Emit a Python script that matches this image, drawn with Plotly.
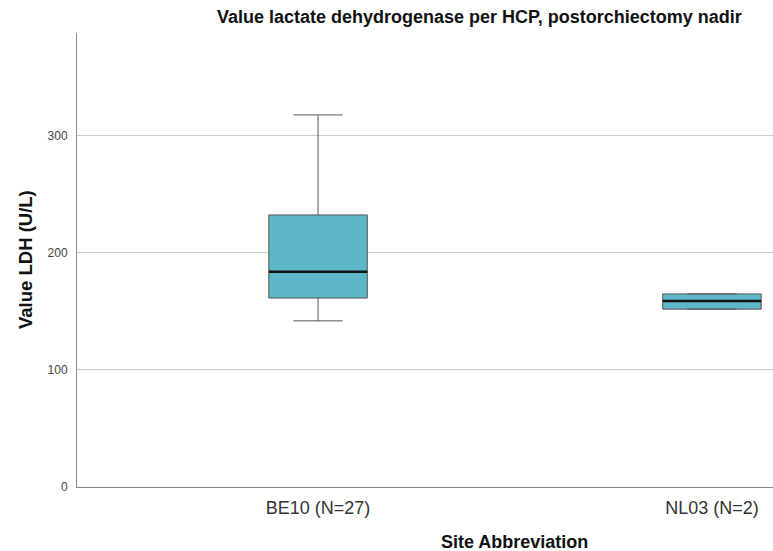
import plotly.graph_objects as go

# LDH summary per site (U/L)
sites = ["BE10 (N=27)", "NL03 (N=2)"]
positions = [0, 1]
lower_whisker = [142, 152]
q1 = [161.5, 152]
median = [184, 159]
q3 = [232.5, 165]
upper_whisker = [318, 165]

box_width = 0.25
fill_color = "#5EB6C9"
edge_color = "#555555"
font_family = "Liberation Sans, Arial, sans-serif"

fig = go.Figure()

fig.add_trace(go.Box(
    x=positions,
    q1=q1,
    median=median,
    q3=q3,
    lowerfence=lower_whisker,
    upperfence=upper_whisker,
    width=box_width,
    whiskerwidth=0.5,
    fillcolor=fill_color,
    line=dict(color=edge_color, width=1),
    boxpoints=False,
    hoverinfo="skip",
    showlegend=False,
))

# heavier median bars drawn over each box
for p, m in zip(positions, median):
    fig.add_trace(go.Scatter(
        x=[p - box_width / 2, p + box_width / 2],
        y=[m, m],
        mode="lines",
        line=dict(color="#111111", width=2.5),
        hoverinfo="skip",
        showlegend=False,
    ))

fig.update_layout(
    width=773,
    height=551,
    margin=dict(l=77, r=0, t=33, b=64),
    plot_bgcolor="white",
    paper_bgcolor="white",
    font=dict(family=font_family, color="#333333"),
    xaxis=dict(
        range=[-0.612, 1.155],
        tickmode="array",
        tickvals=positions,
        ticktext=sites,
        tickfont=dict(size=18, color="#333333"),
        showgrid=False,
        zeroline=False,
        showline=True,
        linecolor="#888888",
        linewidth=1,
        ticks="",
        ticklabelstandoff=4,
    ),
    yaxis=dict(
        range=[0, 388],
        tickvals=[0, 100, 200, 300],
        tickfont=dict(size=12, color="#444444"),
        showgrid=True,
        gridcolor="#cccccc",
        gridwidth=1,
        zeroline=False,
        showline=True,
        linecolor="#888888",
        linewidth=1,
        ticks="",
        ticklabelstandoff=6,
    ),
    annotations=[
        dict(
            text="<b>Value lactate dehydrogenase per HCP, postorchiectomy nadir</b>",
            xref="paper", yref="paper",
            x=0.579, y=1.0, yshift=16,
            xanchor="center", yanchor="middle",
            showarrow=False,
            font=dict(size=18, color="#111111", family=font_family),
        ),
        dict(
            text="<b>Site Abbreviation</b>",
            xref="paper", yref="paper",
            x=0.629, y=0, yshift=-55,
            xanchor="center", yanchor="middle",
            showarrow=False,
            font=dict(size=18, color="#111111", family=font_family),
        ),
        dict(
            text="<b>Value LDH (U/L)</b>",
            xref="paper", yref="paper",
            x=0, xshift=-52, y=0.5,
            xanchor="center", yanchor="middle",
            textangle=-90,
            showarrow=False,
            font=dict(size=18.5, color="#111111", family=font_family),
        ),
    ],
)

fig.write_html("out.html")
